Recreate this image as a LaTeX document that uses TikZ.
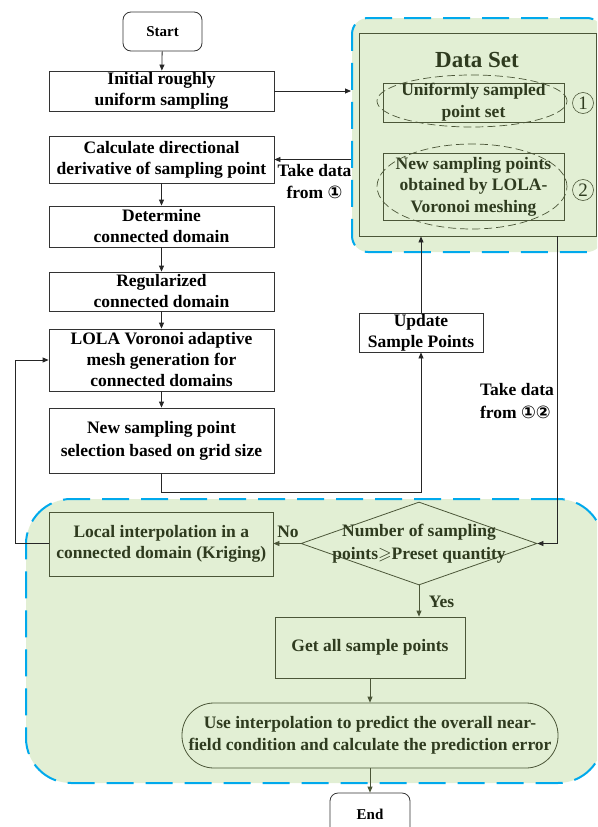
\documentclass[tikz,border=0pt]{standalone}
\usepackage{amssymb}
\usepackage{fontspec}
\setmainfont{Liberation Serif}
\newfontfamily\djv{DejaVu Sans}
\usetikzlibrary{shapes.geometric,arrows.meta}
\definecolor{gfill}{HTML}{E2EFD4}
\definecolor{gtext}{HTML}{2F3B1F}
\definecolor{gline}{HTML}{4B5638}
\definecolor{dblue}{HTML}{00A9EC}
\tikzset{
  base/.style={font=\bfseries\fontsize{17.5}{21}\selectfont, align=center, inner sep=0pt},
  wbox/.style={base, draw=black!80, line width=0.8pt, fill=white},
  term/.style={wbox, rounded corners=8pt, font=\bfseries\fontsize{15}{18}\selectfont},
  gbox/.style={base, draw=gline, line width=0.8pt, fill=gfill, text=gtext},
  region/.style={draw=dblue, line width=2pt, dash pattern=on 27pt off 12pt, fill=gfill},
  ell/.style={ellipse, draw=gline, line width=0.7pt, dash pattern=on 8pt off 4pt, inner sep=0pt},
  arr/.style={-{Triangle[length=6pt,width=5pt]}, line width=0.8pt, draw=black!85},
  garr/.style={arr, draw=gline, fill=gline},
  lbl/.style={base, text=black},
  circnum/.style={circle, draw=gline, line width=0.6pt, inner sep=0pt, minimum size=21pt, text=gtext, font=\fontsize{19}{19}\selectfont}
}
\begin{document}
\begin{tikzpicture}[x=1pt,y=-1pt]
\useasboundingbox (0,0) rectangle (597,827);
\begin{scope}
\clip (0,0) rectangle (597,827);
% regions
\node[region, rounded corners=16pt, minimum width=251pt, minimum height=234pt, inner sep=0pt] (dsreg) at (477.5,135) {};
\node[region, rounded corners=45pt, minimum width=577pt, minimum height=284pt, inner sep=0pt] (botreg) at (314.5,641) {};
\node[draw=gline, line width=0.8pt, fill=gfill, minimum width=237pt, minimum height=203pt, inner sep=0pt] (dsin) at (477.5,134.5) {};
\end{scope}

% data set contents
\node[base, text=gtext, font=\bfseries\fontsize{23}{26}\selectfont] (dstitle) at (477,60) {Data Set};
\node[gbox, minimum width=181pt, minimum height=39pt, font=\bfseries\fontsize{17.5}{22}\selectfont] (ds1) at (473.5,102.5) {Uniformly sampled\\point set};
\node[ell, minimum width=190pt, minimum height=52pt] (e1) at (472,101) {};
\node[gbox, minimum width=181pt, minimum height=67pt, font=\bfseries\fontsize{17.5}{21.5}\selectfont] (ds2) at (473.5,186.5) {New sampling points\\obtained by LOLA-\\Voronoi meshing};
\node[ell, minimum width=190pt, minimum height=85pt] (e2) at (472,186.5) {};
\node[circnum] (n1) at (583,103) {1};
\node[circnum] (n2) at (583,190) {2};

% left column
\node[term, minimum width=79pt, minimum height=39pt] (start) at (162.5,31.5) {Start};
\node[wbox, minimum width=225pt, minimum height=40pt] (init) at (161.5,91) {Initial roughly\\uniform sampling};
\node[wbox, minimum width=225pt, minimum height=47pt] (calc) at (161.5,159.5) {Calculate directional\\derivative of sampling point};
\node[wbox, minimum width=225pt, minimum height=41pt] (det) at (161.5,226.5) {Determine\\connected domain};
\node[wbox, minimum width=225pt, minimum height=39pt] (reg) at (161.5,291.5) {Regularized\\connected domain};
\node[wbox, minimum width=225pt, minimum height=62pt] (lola) at (161.5,360) {LOLA Voronoi adaptive\\mesh generation for\\connected domains};
\node[wbox, minimum width=225pt, minimum height=65pt, font=\bfseries\fontsize{17.5}{23}\selectfont] (newsel) at (161.5,440.5) {New sampling point\\selection based on grid size};
\node[wbox, minimum width=124pt, minimum height=39pt] (update) at (421,332.5) {Update\\Sample Points};

% bottom region contents
\node[gbox, minimum width=223.5pt, minimum height=64pt, font=\bfseries\fontsize{17.5}{21}\selectfont] (local) at (161.25,544) {Local interpolation in a\\connected domain (Kriging)};
\node[diamond, draw=gline, line width=0.8pt, fill=gfill, inner sep=0pt, aspect=2.84, minimum width=236pt, minimum height=83pt,
  label={[base, text=gtext, font=\bfseries\fontsize{17.5}{23.3}\selectfont]center:Number of sampling\\points$\geqslant$Preset quantity}] (dia) at (419,543.5) {};
\node[gbox, minimum width=190pt, minimum height=61pt] (get) at (370,647.5) {Get all sample points};
\node[gbox, rounded corners=32pt, minimum width=376pt, minimum height=65pt, font=\bfseries\fontsize{17.5}{21.7}\selectfont] (pred) at (370,735.5) {Use interpolation to predict the overall near-\\field condition and calculate the prediction error};
\node[term, minimum width=80pt, minimum height=42pt] (end) at (370,814) {End};

% labels
\node[lbl, font=\bfseries\fontsize{17.5}{22}\selectfont] (tk1) at (314.5,182) {Take data\\from {\djv ①}};
\node[lbl, font=\bfseries\fontsize{17.5}{23}\selectfont, align=left] (tk2) at (517,401.5) {Take data\\from {\djv ①②}};
\node[base, text=gtext] (no) at (288,532) {No};
\node[base, text=gtext] (yes) at (441.5,601.5) {Yes};

% coordinates
\coordinate (c1) at (161.5,492);
\coordinate (c2) at (557,236);
\coordinate (c3) at (15,543);

% connectors
\draw[arr] (start) -- (init);
\draw[arr] (init.east) -- (init.east -| dsreg.west);
\draw[arr] (calc.east -| dsreg.west) -- (calc.east);
\draw[arr] (calc) -- (det);
\draw[arr] (det) -- (reg);
\draw[arr] (reg) -- (lola);
\draw[arr] (lola) -- (newsel);
\draw[arr] (newsel.south) -- (c1) -| (update.south);
\draw[arr] (update.north) -- (update.north |- dsin.south);
\draw[arr] (c2) |- (dia.east);
\draw[garr] (dia.west) -- (dia.west -| local.east);
\draw[arr] (local.west |- c3) -- (c3) |- (lola.west);
\draw[garr] (dia.south) -- (dia.south |- get.north);
\draw[garr] (get) -- (pred);
\draw[garr] (pred) -- (end);
\end{tikzpicture}
\end{document}
